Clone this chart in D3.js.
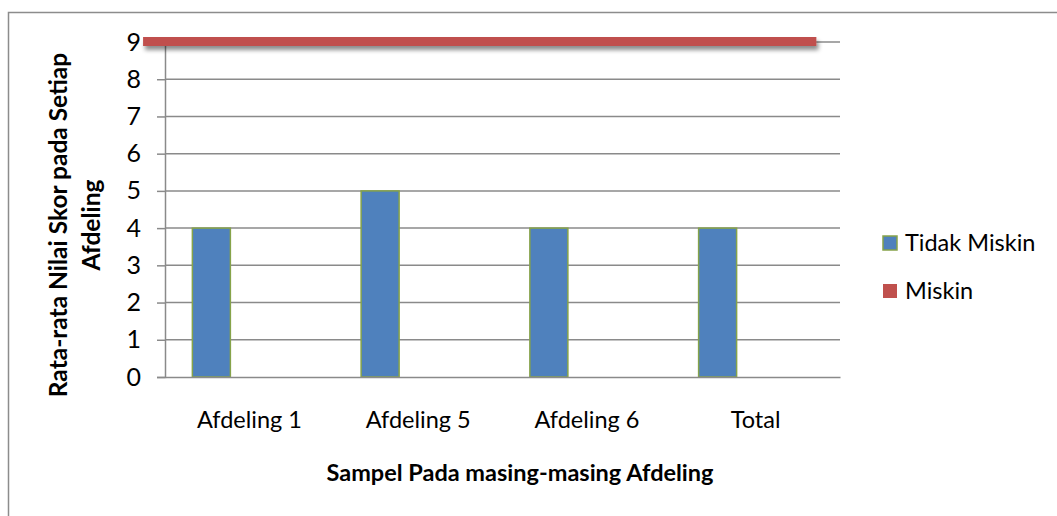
<html>
<head>
  <style>
    body { margin: 0; background: #fff; font-family: Lato, "Open Sans", sans-serif; }
  </style>
</head>
<body>
  <svg id="chart"></svg>
  <script src="https://cdn.jsdelivr.net/npm/d3@7/dist/d3.min.js"></script>
  <script>
    // data
    var categories = ["Afdeling 1", "Afdeling 5", "Afdeling 6", "Total"];
    var tidakMiskin = [4, 5, 4, 4];
    var miskin = [9, 9, 9, 9];
    var yTicks = [0, 1, 2, 3, 4, 5, 6, 7, 8, 9];
    var seriesNames = ["Tidak Miskin", "Miskin"];
    var yTitleLines = ["Rata-rata Nilai Skor pada Setiap", "Afdeling"];
    var xTitle = "Sampel Pada masing-masing Afdeling";

    var W = 1057, H = 516;
    var plot = { left: 165, right: 840, top: 42, bottom: 377 };
    var fontSize = 23.5;

    var svg = d3.select("#chart").attr("width", W).attr("height", H);

    // outer frame (right and bottom edges fall outside the picture)
    svg.append("rect")
      .attr("x", 8.5).attr("y", 12.5)
      .attr("width", W + 10).attr("height", H + 10)
      .attr("fill", "none").attr("stroke", "#8c8c8c").attr("stroke-width", 1.5);

    // shadow under the red line; user space units because the path has no height
    var defs = svg.append("defs");
    defs.append("filter").attr("id", "shadow")
      .attr("filterUnits", "userSpaceOnUse")
      .attr("x", 0).attr("y", 0).attr("width", W).attr("height", 120)
      .append("feDropShadow")
      .attr("dx", 2).attr("dy", 4).attr("stdDeviation", 2.2)
      .attr("flood-color", "#000").attr("flood-opacity", 0.45);

    var x = d3.scaleBand().domain(categories).range([plot.left, plot.right]);
    // three slots per category, the first one is used by the blue bars
    var slot = d3.scaleBand().domain(["a", "b", "c"])
      .range([0, x.bandwidth()]).paddingOuter(0.72);
    var y = d3.scaleLinear().domain([0, 9]).range([plot.bottom, plot.top]);

    // gridlines
    svg.append("g").selectAll("line").data(yTicks.slice(1)).enter().append("line")
      .attr("x1", plot.left).attr("x2", plot.right)
      .attr("y1", function(d){ return y(d); }).attr("y2", function(d){ return y(d); })
      .attr("stroke", "#8a8a8a").attr("stroke-width", 1.5);

    // y axis
    var yAxis = d3.axisLeft(y).tickValues(yTicks).tickSize(8).tickPadding(16);
    var gy = svg.append("g").attr("transform", "translate(" + plot.left + ",0)").call(yAxis);
    gy.select(".domain").attr("stroke", "#8a8a8a").attr("stroke-width", 1.5);
    gy.selectAll(".tick line").attr("stroke", "#8a8a8a").attr("stroke-width", 1.5);
    gy.selectAll("text").attr("font-size", 25).attr("font-family", "Lato").attr("fill", "#000");

    // bars
    svg.append("g").selectAll("rect").data(tidakMiskin).enter().append("rect")
      .attr("x", function(d, i){ return x(categories[i]) + slot("a"); })
      .attr("y", function(d){ return y(d); })
      .attr("width", slot.bandwidth())
      .attr("height", function(d){ return y(0) - y(d); })
      .attr("fill", "#4f81bd").attr("stroke", "#86a34a").attr("stroke-width", 1.5);

    // x axis
    var xAxis = d3.axisBottom(x).tickSize(0).tickPadding(34);
    var gx = svg.append("g").attr("transform", "translate(0," + plot.bottom + ")").call(xAxis);
    gx.select(".domain").attr("stroke", "#8a8a8a").attr("stroke-width", 1.5);
    gx.selectAll("text").attr("font-size", fontSize).attr("font-family", "Lato").attr("fill", "#000");

    // miskin line
    var line = d3.line()
      .x(function(d, i){
        var cx = x(categories[i]) + x.bandwidth() / 2;
        if (i === 0) return cx - x.bandwidth() * 0.63;
        if (i === categories.length - 1) return cx + x.bandwidth() * 0.36;
        return cx;
      })
      .y(function(d){ return y(d) - 0.5; });
    svg.append("path").datum(miskin)
      .attr("d", line)
      .attr("fill", "none").attr("stroke", "#c0504d").attr("stroke-width", 9)
      .attr("filter", "url(#shadow)");

    // y title
    var yt = svg.append("text")
      .attr("transform", "translate(67,225) rotate(-90)")
      .attr("text-anchor", "middle")
      .attr("font-size", 24.5).attr("font-weight", "bold").attr("font-family", "Lato");
    yt.selectAll("tspan").data(yTitleLines).enter().append("tspan")
      .attr("x", 0).attr("dy", function(d, i){ return i === 0 ? 0 : 33; })
      .text(function(d){ return d; });

    // x title
    svg.append("text")
      .attr("x", 520).attr("y", 481)
      .attr("text-anchor", "middle")
      .attr("font-size", fontSize).attr("font-weight", "bold").attr("font-family", "Lato")
      .text(xTitle);

    // legend
    var legend = svg.append("g").attr("transform", "translate(883,236)");
    var items = legend.selectAll("g").data(seriesNames).enter().append("g")
      .attr("transform", function(d, i){ return "translate(0," + (i * 48) + ")"; });
    items.append("rect")
      .attr("width", 14).attr("height", 14)
      .attr("fill", function(d, i){ return i === 0 ? "#4f81bd" : "#c0504d"; })
      .attr("stroke", function(d, i){ return i === 0 ? "#86a34a" : "none"; })
      .attr("stroke-width", 1.5);
    items.append("text")
      .attr("x", 22).attr("y", 15)
      .attr("font-size", fontSize).attr("font-family", "Lato")
      .text(function(d){ return d; });
  </script>
</body>
</html>
